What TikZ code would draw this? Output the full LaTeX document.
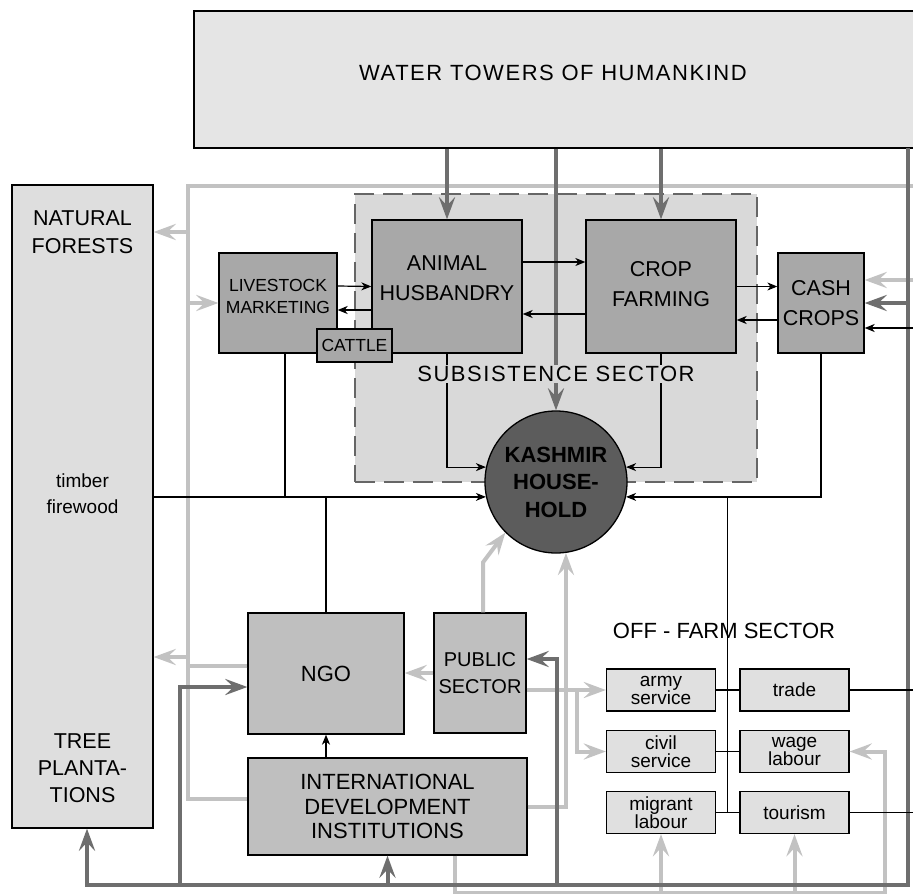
\documentclass[tikz,border=0pt]{standalone}
\usepackage{fontspec}
\setmainfont{Liberation Sans}
\newfontfamily\spacedfont[LetterSpace=7]{Liberation Sans}
\usetikzlibrary{arrows.meta}

\definecolor{flowdark}{gray}{0.43}
\definecolor{flowlight}{gray}{0.76}
\definecolor{boxmid}{gray}{0.66}
\definecolor{boxinst}{gray}{0.75}
\definecolor{boxjob}{gray}{0.88}
\definecolor{boxwater}{gray}{0.9}
\definecolor{boxforest}{gray}{0.87}
\definecolor{sectorfill}{gray}{0.85}
\definecolor{hholdfill}{gray}{0.36}

\begin{document}
\begin{tikzpicture}[x=1pt,y=-1pt,
    farmbox/.style={draw,line width=1.3pt,fill=boxmid,align=center,inner sep=0pt,
        font=\fontsize{21.5}{30}\selectfont},
    instbox/.style={draw,line width=1.3pt,fill=boxinst,align=center,inner sep=0pt,
        font=\fontsize{22}{24.5}\selectfont},
    jobbox/.style={draw,line width=1.3pt,fill=boxjob,align=center,inner sep=0pt,
        minimum width=109pt,minimum height=42pt,font=\fontsize{19}{18}\selectfont},
    darkflow/.style={draw=flowdark,line width=4pt},
    lightflow/.style={draw=flowlight,line width=4pt},
    thinflow/.style={draw=black,line width=1.2pt},
    bigtip/.style={-{Stealth[length=22pt,width=16pt,inset=8pt]}},
    smalltip/.style={-{Stealth[length=10pt,width=8pt,inset=3pt]}},
]
            \useasboundingbox (0,0) rectangle (913,894);
            \fill[white] (0,0) rectangle (913,894);
            \clip (0,0) rectangle (913,894);
            % Subsistenzsektor:
            \node[draw=black!60,dash pattern=on 20pt off 9pt,line width=1.3pt,fill=sectorfill,
                minimum width=402pt,minimum height=288pt,inner sep=0pt] (subsist) at (556,338) {};
            % Wassertuerme:
            \node[draw,line width=1.3pt,fill=boxwater,minimum width=746pt,minimum height=137pt,
                inner sep=0pt] (water) at (567,79.5) {};
            \node[font=\spacedfont\fontsize{22}{26}\selectfont] (waterlabel) at (553,73)
                {WATER TOWERS OF HUMANKIND};
            % Wald:
            \node[draw,line width=1.3pt,fill=boxforest,minimum width=141pt,minimum height=643pt,
                inner sep=0pt] (forests) at (82.5,506.5) {};
            \node[align=center,font=\fontsize{21.5}{28}\selectfont] (natlabel) at (82.5,232)
                {NATURAL\\FORESTS};
            \node[align=center,font=\fontsize{19}{26}\selectfont] (woodlabel) at (82.5,494)
                {timber\\firewood};
            \node[align=center,font=\fontsize{21.5}{27}\selectfont] (plantlabel) at (82.5,768)
                {TREE\\PLANTA-\\TIONS};
            % Landwirtschaft:
            \node[farmbox,minimum width=118pt,minimum height=100pt,font=\fontsize{17.5}{22}\selectfont,
                text depth=13pt] (livestock) at (278,303) {LIVESTOCK\\MARKETING};
            \node[farmbox,minimum width=150pt,minimum height=133pt,text depth=16pt] (ah) at (447,286.5)
                {ANIMAL\\HUSBANDRY};
            \node[farmbox,minimum width=150pt,minimum height=133pt,text depth=5pt] (crop) at (661,286.5)
                {CROP\\FARMING};
            \node[farmbox,minimum width=86pt,minimum height=100pt] (cash) at (821,303) {CASH\\CROPS};
            \node[farmbox,minimum width=75pt,minimum height=33pt,font=\fontsize{17.5}{20}\selectfont]
                (cattle) at (354.5,345.5) {CATTLE};
            % Haushalt:
            \node[draw,line width=1.3pt,circle,fill=hholdfill,minimum size=142pt,inner sep=0pt,
                align=center,font=\bfseries\fontsize{22}{27.5}\selectfont] (household) at (556,482)
                {KASHMIR\\HOUSE-\\HOLD};
            % Institutionen:
            \node[instbox,minimum width=156pt,minimum height=121pt] (ngo) at (326,673.5) {NGO};
            \node[instbox,minimum width=92pt,minimum height=120pt,font=\fontsize{20}{27}\selectfont]
                (public) at (480,673) {PUBLIC\\SECTOR};
            \node[instbox,minimum width=279pt,minimum height=97pt] (intl) at (387.5,806.5)
                {INTERNATIONAL\\DEVELOPMENT\\INSTITUTIONS};
            % Off-Farm:
            \node[font=\fontsize{22}{26}\selectfont] (offfarm) at (724,631) {OFF - FARM SECTOR};
            \node[jobbox] (army) at (661,690) {army\\service};
            \node[jobbox] (trade) at (794.5,690) {trade};
            \node[jobbox] (civil) at (661,751.5) {civil\\service};
            \node[jobbox] (wage) at (794.5,751.5) {wage\\labour};
            \node[jobbox] (migrant) at (661,812.5) {migrant\\labour};
            \node[jobbox] (tourism) at (794.5,812.5) {tourism};
            % Hilfspunkte:
            \coordinate (frameNE) at (913,186);
            \coordinate (frameNW) at (188,186);
            \coordinate (rimNE) at (908,148);
            \coordinate (rimSE) at (908,885);
            \coordinate (ngoFoot) at (180,885);
            \coordinate (pubFoot) at (557,885);
            \coordinate (labourSE) at (885,893);
            \coordinate (edgeA) at (913,280);
            \coordinate (edgeC) at (913,328);
            \coordinate (plantIn) at (188,657);
            \coordinate (stockFoot) at ([xshift=7pt]livestock.south);
            \path (army.east) -- (trade.west) coordinate[midway] (spine);
            % helle Pfeile:
            \draw[lightflow] (frameNE) -- (frameNW) |- ([yshift=8pt]intl.west);
            \draw[lightflow,bigtip] (frameNW |- natlabel) -- (forests.east |- natlabel);
            \draw[lightflow,bigtip] (frameNW |- livestock.west) -- (livestock.west);
            \draw[lightflow] ([yshift=7.5pt]ngo.west) -| (frameNW);
            \draw[lightflow,bigtip] (plantIn) -- (forests.east |- plantIn);
            \draw[lightflow,bigtip] (public.west) -- (ngo.east |- public.west);
            \draw[lightflow,bigtip] ([xshift=3pt]public.north) -- ++(0,-50) -- (household.225);
            \draw[lightflow,bigtip] (intl.east) -| (household.278);
            \draw[lightflow,bigtip] (public.east |- army.west) -- (army.west);
            \draw[lightflow,bigtip] ([xshift=-29pt]army.west) |- (civil.west);
            \draw[lightflow,bigtip] ([xshift=67.5pt]intl.south) |- (labourSE) |- (wage.east);
            \draw[lightflow,bigtip] (migrant.south |- labourSE) -- (migrant.south);
            \draw[lightflow,bigtip] (tourism.south |- labourSE) -- (tourism.south);
            \draw[lightflow,bigtip] (edgeA) -- (cash.east |- edgeA);
            % dunkle Pfeile:
            \draw[darkflow,bigtip] (water.south -| ah.north) -- (ah.north);
            \draw[darkflow,bigtip] (water.south -| household.north) -- (household.north);
            \draw[darkflow,bigtip] (water.south -| crop.north) -- (crop.north);
            \draw[darkflow,bigtip] (rimNE) -- (rimSE) -| ([xshift=4.5pt]forests.south);
            \draw[darkflow,bigtip] (rimNE |- cash.east) -- (cash.east);
            \draw[darkflow,bigtip] (ngoFoot) |- ([yshift=-13.5pt]ngo.west);
            \draw[darkflow,bigtip] (intl.south |- rimSE) -- (intl.south);
            \draw[darkflow,bigtip] (pubFoot) |- ([yshift=14pt]public.east);
            % duenne Pfeile:
            \draw[thinflow,smalltip] ([yshift=17pt]livestock.east) -- (ah.west);
            \draw[thinflow,smalltip] ([yshift=-23.5pt]ah.west) -- ([yshift=-7pt]livestock.east);
            \draw[thinflow,smalltip] ([yshift=24.5pt]ah.east) -- ([yshift=24.5pt]crop.west);
            \draw[thinflow,smalltip] ([yshift=-27.5pt]crop.west) -- ([yshift=-27.5pt]ah.east);
            \draw[thinflow,smalltip] (crop.east) -- ([yshift=16.5pt]cash.west);
            \draw[thinflow,smalltip] ([yshift=-17pt]cash.west) -- ([yshift=-33.5pt]crop.east);
            \draw[thinflow,smalltip] (edgeC) -- (cash.east |- edgeC);
            \draw[thinflow,smalltip] (ah.south) |- (household.168);
            \draw[thinflow,smalltip] (crop.south) |- (household.12);
            \draw[thinflow,smalltip] (forests.east |- household.192) -- (household.192);
            \draw[thinflow] (stockFoot) -- (stockFoot |- household.192);
            \draw[thinflow] (ngo.north) -- (ngo.north |- household.192);
            \draw[thinflow,smalltip] (cash.south) |- (household.348);
            \draw[thinflow,smalltip] (ngo.south |- intl.north) -- (ngo.south);
            \draw[thinflow] (spine |- household.348) -- (spine |- tourism.west);
            \draw[thinflow] (army.east) -- (trade.west);
            \draw[thinflow] (civil.east) -- (wage.west);
            \draw[thinflow] (migrant.east) -- (tourism.west);
            \draw[thinflow] (trade.east) -- (trade.east -| edgeC);
            \draw[thinflow] (tourism.east) -- (tourism.east -| edgeC);
            % Beschriftung Sektor:
            \node[fill=sectorfill,inner sep=1pt,font=\spacedfont\fontsize{22}{26}\selectfont]
                (sublabel) at (556,374) {SUBSISTENCE SECTOR};
\end{tikzpicture}
\end{document}
